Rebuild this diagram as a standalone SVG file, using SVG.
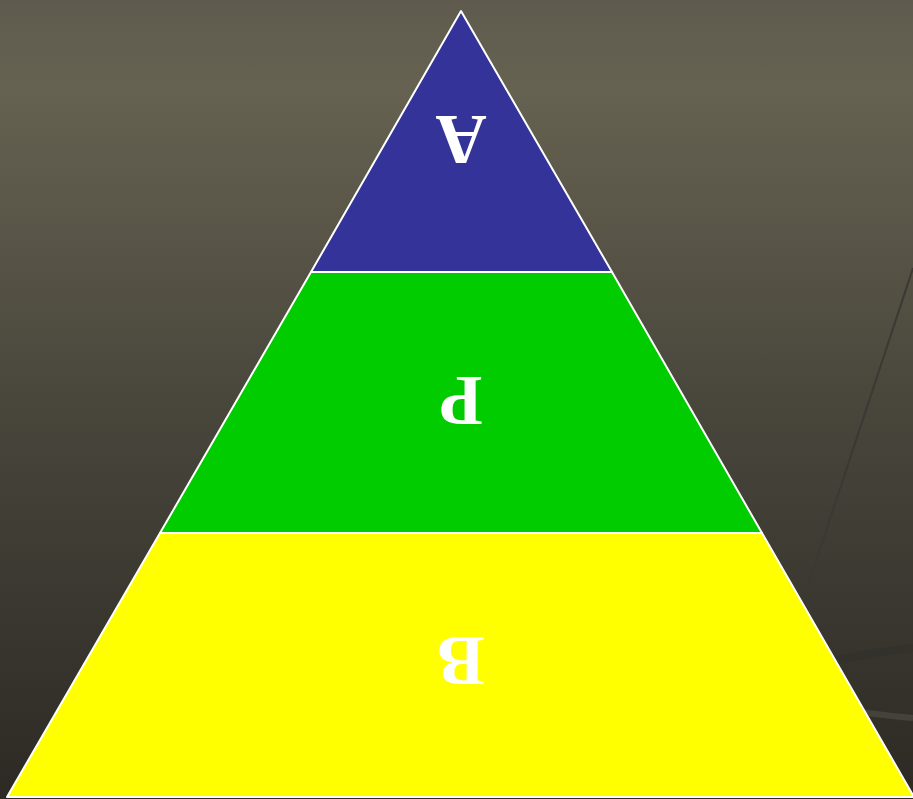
<svg xmlns="http://www.w3.org/2000/svg" width="913" height="799" viewBox="0 0 913 799">
<defs>
<linearGradient id="bg" x1="0" y1="0" x2="0" y2="1">
<stop offset="0" stop-color="#5e5b4e"/>
<stop offset="0.11" stop-color="#666251"/>
<stop offset="0.5" stop-color="#49463c"/>
<stop offset="1" stop-color="#2d2a25"/>
</linearGradient>
<style>
.layer{stroke:#ffffff;stroke-width:2;stroke-linejoin:round}
.lbl{font-family:"Liberation Serif","Times New Roman",serif;font-weight:bold;font-size:71px;fill:#ffffff;text-anchor:middle}
</style>
</defs>
<rect width="913" height="799" fill="url(#bg)"/>
<g id="background-decor" fill="none">
<path d="M913 268 L790 640" stroke="#3b3933" stroke-width="2"/>
<path d="M830 662 Q870 652 913 648" stroke="#2f2d28" stroke-width="8" opacity="0.35"/>
<path d="M860 712 Q890 716 913 718" stroke="#4a4740" stroke-width="6" opacity="0.8"/>
</g>
<g id="layer-a">
<polygon class="layer" points="461,11 311,272 612,272" fill="#333399"/>
<text class="lbl" transform="translate(461,140) rotate(180)" dominant-baseline="central">A</text>
</g>
<g id="layer-p">
<polygon class="layer" points="311,272 612,272 762,533 160,533" fill="#00cc00"/>
<text class="lbl" transform="translate(461,401) rotate(180)" dominant-baseline="central">P</text>
</g>
<g id="layer-b">
<polygon class="layer" points="160,533 762,533 914,797 7,797" fill="#ffff00"/>
<text class="lbl" transform="translate(461,661) rotate(180)" dominant-baseline="central">B</text>
</g>
<g id="connectors"/>
</svg>
